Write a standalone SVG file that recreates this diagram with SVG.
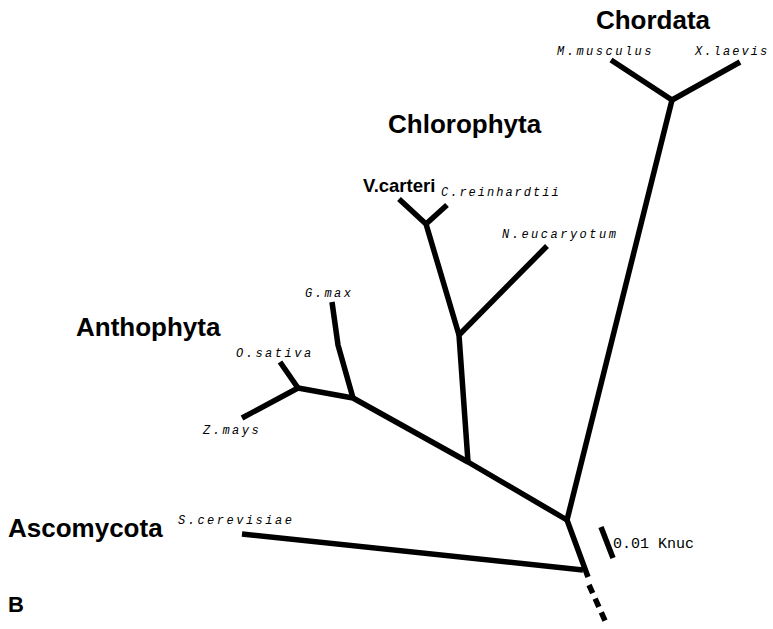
<svg xmlns="http://www.w3.org/2000/svg" width="773" height="629" viewBox="0 0 773 629">
<style>
.br{stroke:#000;stroke-width:5.5;fill:none;stroke-linecap:butt;stroke-linejoin:round}
.grp{font-family:"Liberation Sans",Arial,sans-serif;font-weight:bold;font-size:26px;fill:#000}
.sp{font-family:"Liberation Mono","Courier New",monospace;font-style:italic;font-size:12px;letter-spacing:2.5px;fill:#000}
.sc{font-family:"Liberation Mono","Courier New",monospace;font-size:15px;fill:#000}
</style>
<rect width="773" height="629" fill="#fff"/>
<g id="connectors">
<polyline class="br" points="611,60 672,100 740,62"/>
<polyline class="br" points="672,100 567,520 588,577"/>
<polyline class="br" points="567,520 468,462 353,398 298,388"/>
<polyline class="br" points="280,362 298,388 242,418"/>
<polyline class="br" points="332,302 338,345 353,398"/>
<polyline class="br" points="468,462 459,335 547,246"/>
<polyline class="br" points="459,335 426,224 399,199"/>
<line class="br" x1="426" y1="224" x2="447" y2="205"/>
<line class="br" x1="242" y1="534" x2="583" y2="570"/>
<line class="br" x1="589" y1="585" x2="607" y2="625" stroke-dasharray="9,6"/>
<line class="br" x1="601" y1="527" x2="613" y2="558"/>
</g>
<g id="chordata"><text class="grp" x="653" y="29" text-anchor="middle">Chordata</text>
<text class="sp" x="557" y="55">M.musculus</text><text class="sp" x="695" y="55" style="letter-spacing:2.1px">X.laevis</text></g>
<g id="chlorophyta"><text class="grp" x="388" y="133">Chlorophyta</text>
<text class="grp" x="363" y="192" style="font-size:18.5px">V.carteri</text>
<text class="sp" x="441" y="196" style="letter-spacing:2px">C.reinhardtii</text>
<text class="sp" x="502" y="238">N.eucaryotum</text></g>
<g id="anthophyta"><text class="grp" x="76" y="336">Anthophyta</text>
<text class="sp" x="305" y="297">G.max</text>
<text class="sp" x="236" y="357">O.sativa</text>
<text class="sp" x="203" y="434">Z.mays</text></g>
<g id="ascomycota"><text class="grp" x="8" y="537">Ascomycota</text>
<text class="sp" x="178" y="524">S.cerevisiae</text></g>
<g id="scale"><text class="sc" x="613" y="548">0.01 Knuc</text></g>
<g id="panel"><text class="grp" x="8" y="612" style="font-size:22px">B</text></g>
</svg>
